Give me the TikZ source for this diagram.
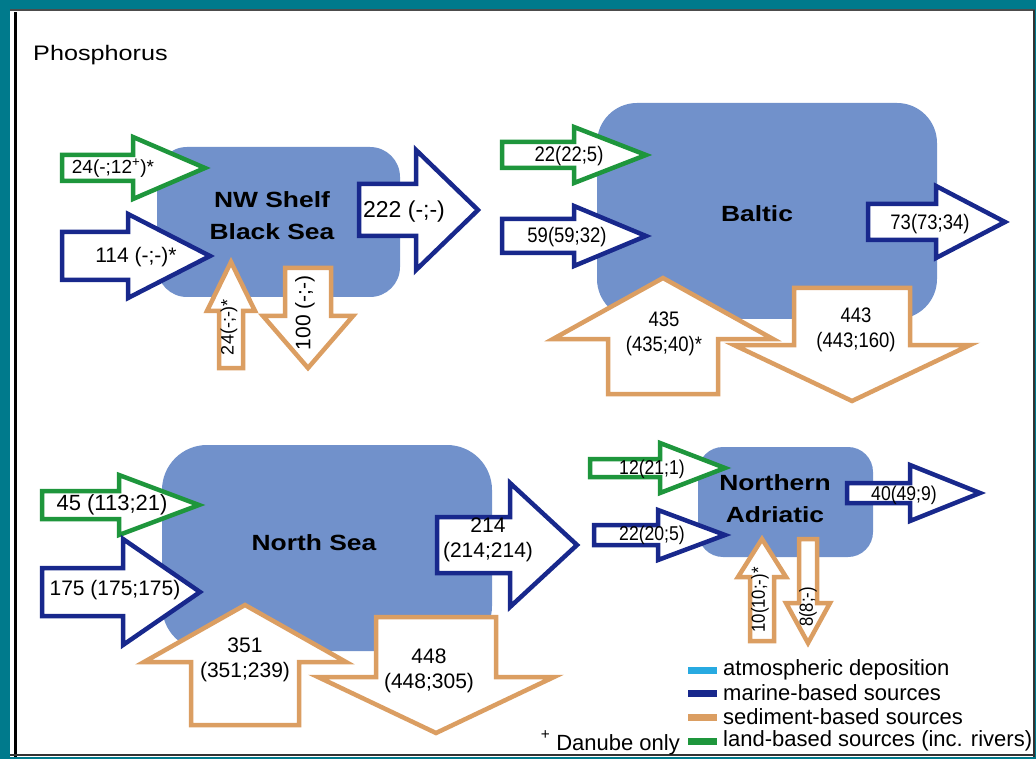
\documentclass[tikz,border=0pt]{standalone}
\usepackage{fontspec}
\setmainfont{Liberation Sans}
\newfontfamily\narrowfont[FakeStretch=0.88]{Liberation Sans}
\newfontfamily\widefont[FakeStretch=1.2]{Liberation Sans}
\definecolor{framebg}{RGB}{0,122,140}
\definecolor{seablue}{RGB}{113,145,203}
\definecolor{marine}{RGB}{24,40,140}
\definecolor{land}{RGB}{30,150,60}
\definecolor{sediment}{RGB}{219,158,98}
\definecolor{atmos}{RGB}{40,170,225}

\newcommand{\harr}[7]{\draw[#1] (#3,#2-#6) -- (#4,#2-#6) -- (#4,#2-#7) -- (#5,#2)
  -- (#4,#2+#7) -- (#4,#2+#6) -- (#3,#2+#6) -- cycle;}
\newcommand{\varr}[7]{\draw[#1] (#2-#6,#3) -- (#2-#6,#4) -- (#2-#7,#4) -- (#2,#5)
  -- (#2+#7,#4) -- (#2+#6,#4) -- (#2+#6,#3) -- cycle;}

\begin{document}
\begin{tikzpicture}[x=1pt,y=-1pt,
  flow/.style={line width=4.5pt,line join=miter,fill=white},
  landflow/.style={flow,draw=land},
  marineflow/.style={flow,draw=marine},
  sedflow/.style={flow,draw=sediment},
  sea/.style={fill=seablue,rounded corners=#1},
  seaname/.style={font=\widefont\bfseries\fontsize{22}{32}\selectfont,align=center,inner sep=0pt},
  num/.style={font=\fontsize{21}{25}\selectfont,align=center,inner sep=0pt},
  nnum/.style={font=\narrowfont\fontsize{21}{25}\selectfont,align=center,inner sep=0pt},
  legtext/.style={font=\fontsize{22}{22}\selectfont,anchor=west,inner sep=0pt}]
  \useasboundingbox (0,0) rectangle (1036,759);
  \fill[framebg] (0,0) rectangle (1036,759);
  \fill[white] (10,9) rectangle (1035,757);
  \draw[gray!60!black,line width=2pt] (10,10.5) -- (1035,10.5);
  \draw[black,line width=3pt] (15,12) -- (15,757);
  \draw[black!80,line width=2pt] (1034,10) -- (1034,757);
  \draw[black!80,line width=2pt] (10,755) -- (1035,755);
  \node[font=\widefont\fontsize{21}{26}\selectfont,anchor=west,inner sep=0pt] (title) at (33,55) {Phosphorus};

  \fill[sea=30pt] (157,147) rectangle (400,297);
  \fill[sea=40pt] (597,103) rectangle (937,319);
  \fill[sea=45pt] (162,445) rectangle (492,651);
  \fill[sea=25pt] (698,447) rectangle (873,557);

  \harr{landflow}{168}{62}{133}{205}{13}{31}
  \harr{marineflow}{256}{62}{128}{210}{24}{42}
  \harr{marineflow}{210}{359}{416}{478}{26}{60}
  \varr{sedflow}{231}{368}{311}{262}{12}{24}
  \varr{sedflow}{308}{268}{316}{368}{23}{45}

  \harr{landflow}{155}{502}{574}{646}{13}{28}
  \harr{marineflow}{236}{502}{574}{646}{17}{30}
  \harr{marineflow}{222}{868}{936}{1005}{18}{36}
  \varr{sedflow}{663}{394}{339}{278}{55}{110}
  \varr{sedflow}{852}{288}{345}{401}{58}{118}

  \harr{landflow}{505}{42}{119}{199}{14}{30}
  \harr{marineflow}{592}{42}{123}{200}{24}{53}
  \harr{marineflow}{545}{437}{510}{577}{28}{62}
  \varr{sedflow}{245}{725}{662}{605}{54}{101}
  \varr{sedflow}{436}{617}{677}{733}{60}{118}

  \harr{landflow}{468}{590}{660}{725}{9}{25}
  \harr{marineflow}{535}{594}{658}{725}{10}{25}
  \harr{marineflow}{493}{847}{910}{980}{10}{28}
  \varr{sedflow}{762}{641}{577}{539}{12}{24}
  \varr{sedflow}{808}{539}{603}{643}{9}{22}

  \node[seaname] (nwname) at (272,216) {NW Shelf\\Black Sea};
  \node[seaname] (balname) at (757,214) {Baltic};
  \node[seaname] (nsname) at (314,543) {North Sea};
  \node[seaname] (adname) at (775,499) {Northern\\Adriatic};

  \node[num,font=\fontsize{19}{22}\selectfont] (nwland) at (113,168) {24(-;12\textsuperscript{+})*};
  \node[num] (nwmarine) at (136,257) {114 (-;-)*};
  \node[num,font=\fontsize{23}{25}\selectfont] (nwout) at (404,212) {222 (-;-)};
  \node[num,font=\fontsize{18}{22}\selectfont,rotate=90] (nwsedin) at (229,327) {24(-;-)*};
  \node[num,rotate=90] (nwsedout) at (305,313) {100 (-;-)};

  \node[nnum] (balland) at (569,156) {22(22;5)};
  \node[nnum] (balmarine) at (567,237) {59(59;32)};
  \node[nnum] (balout) at (930,224) {73(73;34)};
  \node[nnum] (balsedin) at (664,334) {435\\(435;40)*};
  \node[nnum] (balsedout) at (856,330) {443\\(443;160)};

  \node[num,font=\fontsize{22}{25}\selectfont] (nsland) at (112,505) {45 (113;21)};
  \node[num] (nsmarine) at (115,590) {175 (175;175)};
  \node[num] (nsout) at (488,540) {214\\(214;214)};
  \node[num] (nssedin) at (245,660) {351\\(351;239)};
  \node[num] (nssedout) at (429,671) {448\\(448;305)};

  \node[nnum,font=\narrowfont\fontsize{20}{24}\selectfont] (adland) at (652,469) {12(21;1)};
  \node[nnum,font=\narrowfont\fontsize{20}{24}\selectfont] (admarine) at (652,535) {22(20;5)};
  \node[nnum,font=\narrowfont\fontsize{20}{24}\selectfont] (adout) at (904,495) {40(49;9)};
  \node[nnum,font=\narrowfont\fontsize{19}{24}\selectfont,rotate=90] (adsedin) at (760,600) {10(10;-)*};
  \node[nnum,font=\narrowfont\fontsize{19}{24}\selectfont,rotate=90] (adsedout) at (808,607) {8(8;-)};

  \fill[atmos] (688,667) rectangle (717,674);
  \fill[marine] (688,690) rectangle (717,697);
  \fill[sediment] (688,714) rectangle (717,721);
  \fill[land] (688,738) rectangle (717,745);
  \node[legtext] (legatmos) at (723,670) {atmospheric deposition};
  \node[legtext] (legmarine) at (723,693) {marine-based sources};
  \node[legtext] (legsed) at (723,717) {sediment-based sources};
  \node[legtext] (legland) at (723,741) {land-based sources (inc. rivers)};
  \node[legtext,anchor=east,font=\fontsize{22}{22}\selectfont] (danube) at (680,743) {\raisebox{4pt}{\textsuperscript{+}}\hspace{6pt}Danube only};
\end{tikzpicture}
\end{document}
